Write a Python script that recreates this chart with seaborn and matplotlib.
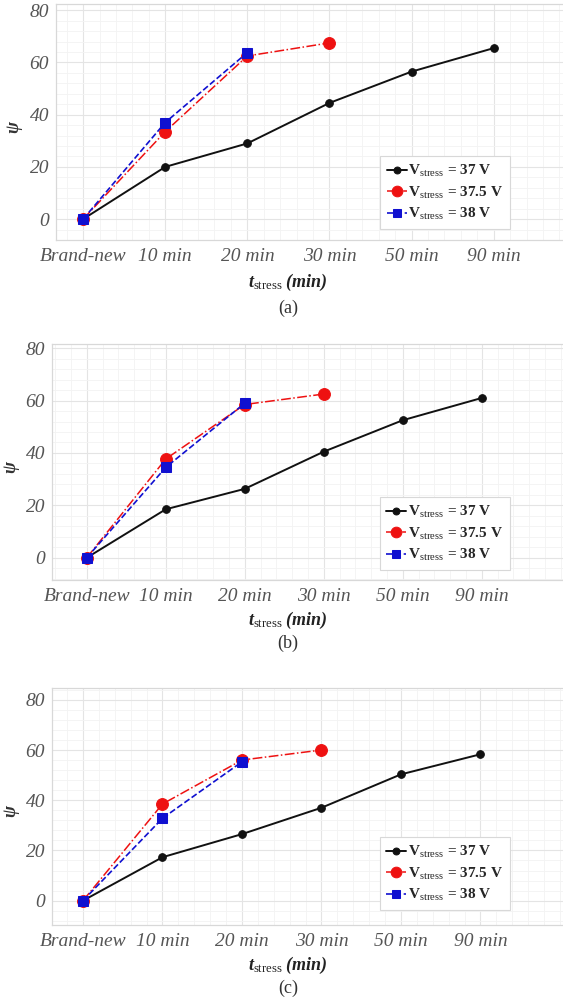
import numpy as np
import pandas as pd
import matplotlib
matplotlib.use("Agg")
import matplotlib.pyplot as plt
from matplotlib.ticker import MultipleLocator
import seaborn as sns

sns.set_theme(style="white")
plt.rcParams["font.family"] = ["Liberation Serif", "DejaVu Serif"]
plt.rcParams["mathtext.fontset"] = "custom"
plt.rcParams["mathtext.rm"] = "Liberation Serif"
plt.rcParams["mathtext.it"] = "Liberation Serif:italic:bold"
plt.rcParams["mathtext.bf"] = "Liberation Serif:bold"

# Stress-time categories (x axis)
stress_times = ["Brand-new", "10 min", "20 min", "30 min", "50 min", "90 min"]
y_ticks = [0, 20, 40, 60, 80]

# (a) degradation index psi per stress voltage
a_37v = [0, 20, 29, 44.5, 56.5, 65.5]
a_375v = [0, 33.5, 62.5, 67.5]
a_38v = [0, 37, 63.8]

# (b)
b_37v = [0, 18.5, 26.3, 40.5, 52.5, 61]
b_375v = [0, 37.7, 58.5, 62.5]
b_38v = [0, 34.5, 59]

# (c)
c_37v = [0, 17.3, 26.5, 37, 50.3, 58.3]
c_375v = [0, 38.5, 56, 60]
c_38v = [0, 32.8, 55.3]

labels = [r"$\mathbf{V}_{\mathrm{stress}}$ = 37 V",
          r"$\mathbf{V}_{\mathrm{stress}}$ = 37.5 V",
          r"$\mathbf{V}_{\mathrm{stress}}$ = 38 V"]

W, H = 563, 1001
fig = plt.figure(figsize=(W / 100, H / 100), dpi=100)


def px_axes(left, top, right, bottom):
    return fig.add_axes([left / W, 1 - bottom / H, (right - left) / W, (bottom - top) / H])


def panel(ax, s37, s375, s38, xlim, ylim, leg_anchor, caption, cap_y, xlab_pos, ylab_x):
    styles = [
        (s37, "#111111", "o", 5.5, "-", 1.4),
        (s375, "#ee1111", "o", 8.5, "-.", 1.1),
        (s38, "#1010d0", "s", 7.0, "--", 1.2),
    ]
    handles = []
    for (vals, col, mk, ms, ls, lw), lab in zip(styles, labels):
        df = pd.DataFrame({"x": np.arange(len(vals)), "psi": vals})
        sns.lineplot(data=df, x="x", y="psi", ax=ax, color=col, marker=mk,
                     markersize=ms, markeredgecolor=col, linestyle=ls,
                     linewidth=lw, label=lab, legend=False, zorder=3)
        handles.append(ax.get_lines()[-1])

    ax.set_xlim(*xlim)
    ax.set_ylim(*ylim)
    ax.set_xticks(np.arange(len(stress_times)))
    ax.set_xticklabels(stress_times, fontstyle="italic", fontsize=14, color="#555555")
    ax.set_yticks(y_ticks)
    ax.set_yticklabels([str(v) for v in y_ticks], fontstyle="italic", fontsize=14,
                       color="#555555")
    ax.xaxis.set_minor_locator(MultipleLocator(0.2))
    ax.yaxis.set_minor_locator(MultipleLocator(4))
    ax.tick_params(which="both", length=0)
    ax.tick_params(axis="x", pad=6)
    ax.tick_params(axis="y", pad=5)
    ax.grid(True, which="major", color="#e4e4e4", linewidth=0.8)
    ax.grid(True, which="minor", color="#f3f3f3", linewidth=0.6)
    ax.set_axisbelow(True)
    for sp in ax.spines.values():
        sp.set_color("#d8d8d8")
        sp.set_linewidth(0.9)

    ax.set_xlabel(r"$t_{\mathrm{stress}}$ (min)", fontsize=13, fontweight="bold",
                  fontstyle="italic", va="center", color="#222222")
    ax.xaxis.set_label_coords(*xlab_pos)
    ax.set_ylabel(r"$\psi$", fontsize=13, va="center", color="#333333")
    ax.yaxis.set_label_coords(ylab_x, 0.48)

    leg = ax.legend(handles=handles, labels=labels, loc="lower right",
                    bbox_to_anchor=leg_anchor, borderaxespad=0,
                    prop={"weight": "bold", "size": 11}, handlelength=1.3,
                    handletextpad=0.1, labelspacing=0.35, borderpad=0.45,
                    frameon=True, fancybox=False, edgecolor="#d8d8d8",
                    framealpha=1.0, markerscale=0.9)
    leg.get_frame().set_linewidth(0.8)

    fig.text(288 / W, 1 - cap_y / H, caption, ha="center", va="center",
             fontsize=13, color="#333333")


ax_a = px_axes(56, 4, 575, 240)
panel(ax_a, a_37v, a_375v, a_38v, (-0.33, 5.99), (-8.0, 82.4), (0.875, 0.047),
      "(a)", 308, ((288 - 56) / 519, (240 - 282) / 236), (15 - 56) / 519)

ax_b = px_axes(52, 344, 575, 580)
panel(ax_b, b_37v, b_375v, b_38v, (-0.44, 6.18), (-8.5, 81.6), (0.875, 0.042),
      "(b)", 643, ((288 - 52) / 523, (580 - 620) / 236), (12 - 52) / 523)

ax_c = px_axes(52, 688, 575, 925)
panel(ax_c, c_37v, c_375v, c_38v, (-0.39, 6.19), (-9.7, 84.7), (0.875, 0.063),
      "(c)", 988, ((288 - 52) / 523, (925 - 965) / 237), (12 - 52) / 523)

fig.savefig("out.png", dpi=100, facecolor="white")
